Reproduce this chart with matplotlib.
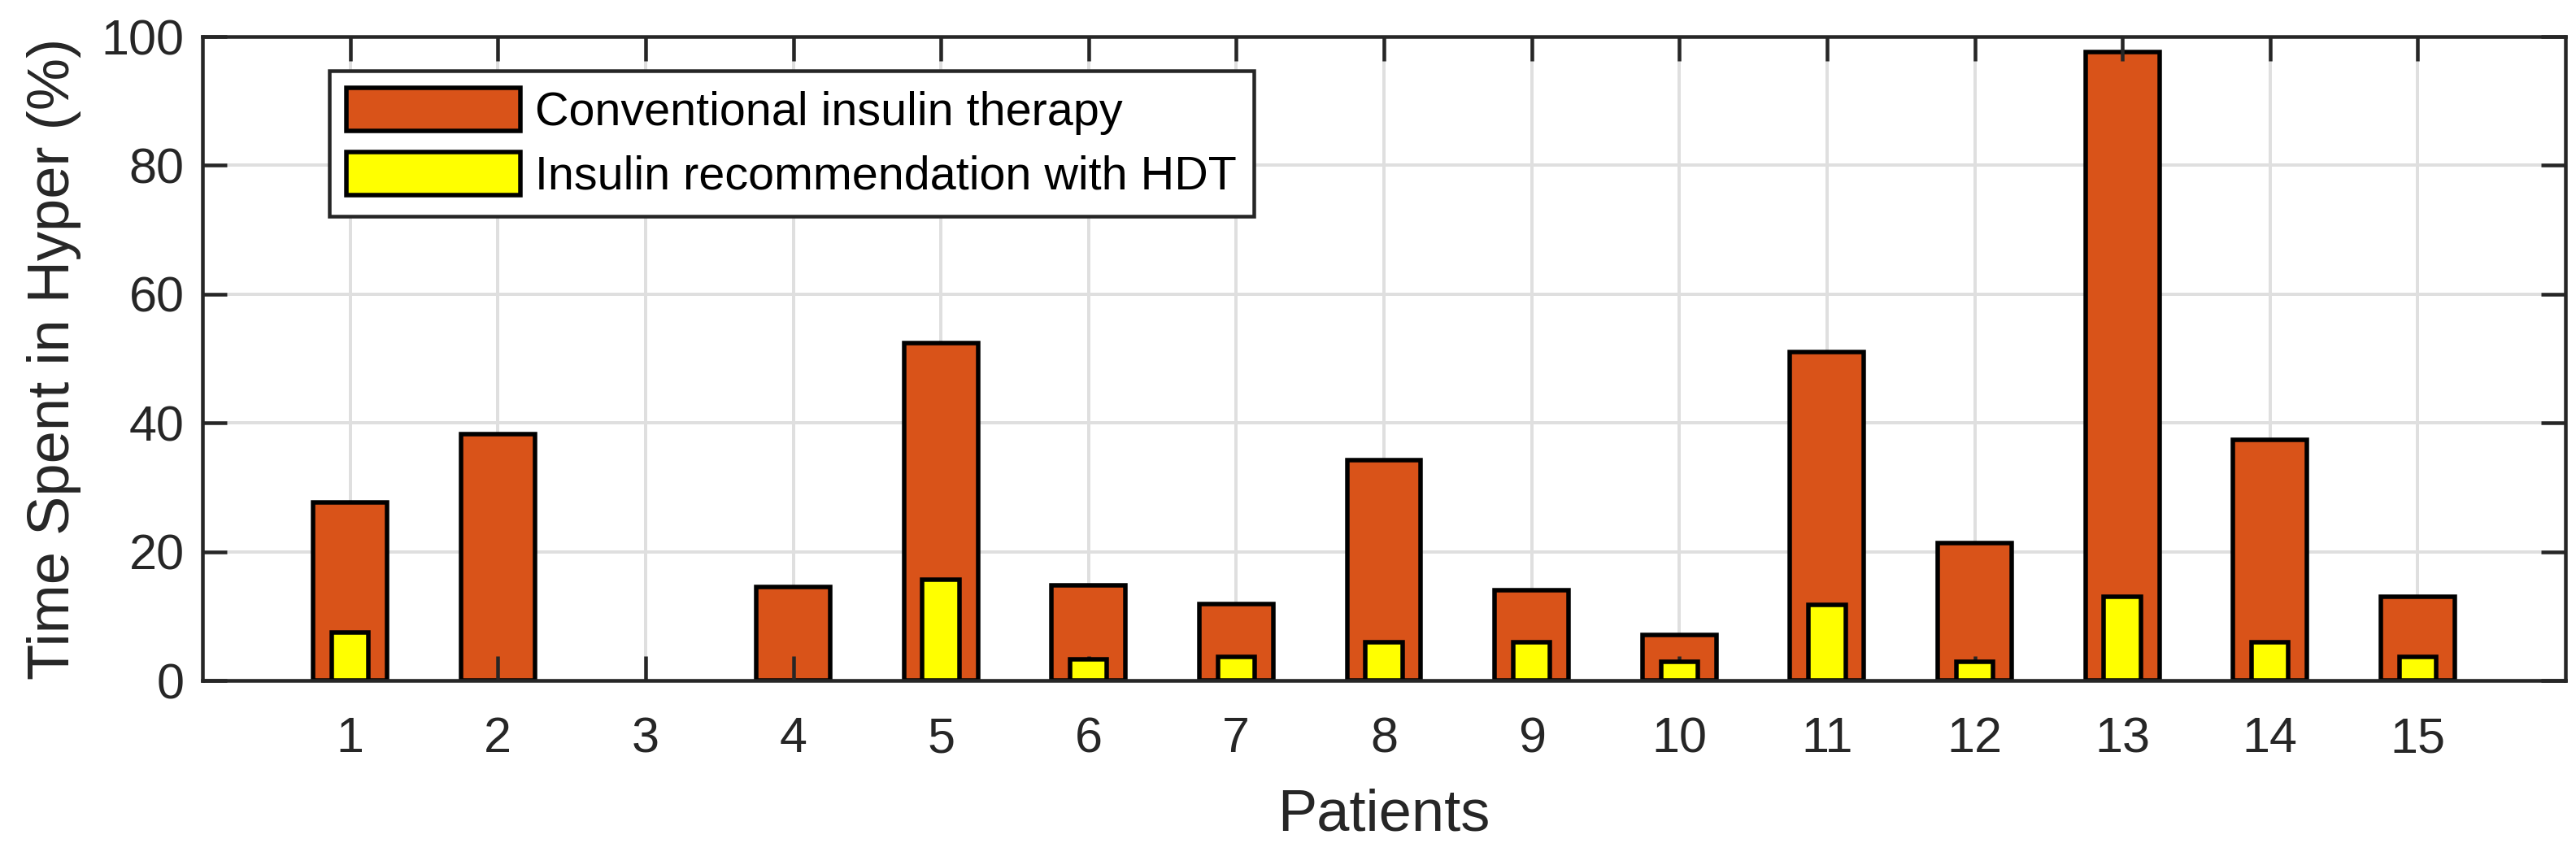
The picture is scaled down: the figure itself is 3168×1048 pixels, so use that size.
import matplotlib
matplotlib.use("Agg")
import matplotlib.pyplot as plt
import numpy as np

patients = list(range(1, 16))
conventional = [27.6, 38.3, 0.0, 14.5, 52.4, 14.8, 11.9, 34.2, 14.0, 7.1, 51.0, 21.3, 97.6, 37.4, 13.0]
hdt = [7.5, 0.0, 0.0, 0.0, 15.6, 3.3, 3.7, 5.9, 5.9, 2.9, 11.7, 2.9, 13.0, 5.9, 3.7]
series_labels = ["Conventional insulin therapy", "Insulin recommendation with HDT"]
yticks = [0, 20, 40, 60, 80, 100]

plt.rcParams['font.family'] = ['Liberation Sans', 'DejaVu Sans']

DPI = 200
fig = plt.figure(figsize=(3168 / DPI, 1048 / DPI), dpi=DPI)
ax = fig.add_axes([249 / 3168, 1 - 837 / 1048, (3155 - 249) / 3168, (837 - 45) / 1048])

axis_col = '#262626'
lw_px = lambda px: px * 72 / DPI
edge_lw = lw_px(5.5)

def edge_widths(vals):
    return [edge_lw if v > 0 else 0 for v in vals]

ax.bar(patients, conventional, width=0.5, color='#D95319', edgecolor='black',
       linewidth=edge_widths(conventional), zorder=2, label=series_labels[0])
ax.bar(patients, hdt, width=0.25, color='#FFFF00', edgecolor='black',
       linewidth=edge_widths(hdt), zorder=3, label=series_labels[1])

ax.set_xlim(0, 16)
ax.set_ylim(0, 100)
ax.set_xticks(patients)
ax.set_yticks(yticks)

# grid behind bars, axis/ticks above
ax.grid(False)
for y in yticks:
    ax.axhline(y, color='#DFDFDF', linewidth=lw_px(4), zorder=0.5)
for x in patients:
    ax.axvline(x, color='#DFDFDF', linewidth=lw_px(4), zorder=0.5)
ax.set_axisbelow(False)

for s in ax.spines.values():
    s.set_color(axis_col)
    s.set_linewidth(lw_px(4.5))
    s.set_zorder(5)

ax.tick_params(axis='both', direction='in', length=lw_px(30), width=lw_px(4.5),
               color=axis_col, labelcolor=axis_col, labelsize=22,
               top=True, right=True)
ax.tick_params(axis='x', pad=16)
ax.tick_params(axis='y', pad=8)

ax.set_xlabel('Patients', fontsize=26, color=axis_col, labelpad=11)
ax.set_ylabel('Time Spent in Hyper (%)', fontsize=26, color=axis_col, labelpad=9)

fs_leg = 20.7
leg = ax.legend(loc='upper left', bbox_to_anchor=(405 / 3168, 1 - 87 / 1048),
                bbox_transform=fig.transFigure, borderaxespad=0,
                fontsize=fs_leg, frameon=True, fancybox=False, shadow=False,
                handlelength=77 / fs_leg, handleheight=21.5 / fs_leg,
                handletextpad=6.5 / fs_leg, borderpad=7.6 / fs_leg,
                labelspacing=7.4 / fs_leg, framealpha=1)
leg.get_frame().set_edgecolor(axis_col)
leg.get_frame().set_linewidth(lw_px(4.5))
leg.set_zorder(10)
for t in leg.get_texts():
    t.set_color('black')
for h in leg.legend_handles:
    h.set_linewidth(edge_lw)

fig.savefig('out.png', dpi=DPI)
